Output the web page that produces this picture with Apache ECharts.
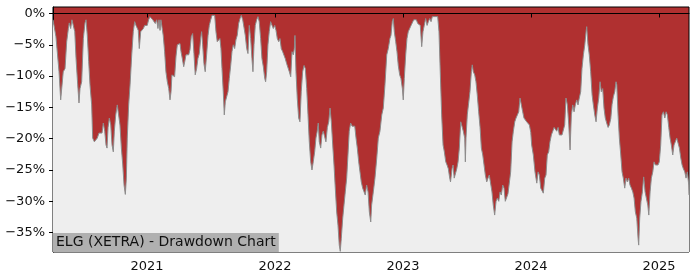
<!DOCTYPE html>
<html>
<head>
<meta charset="utf-8">
<script src="https://cdn.jsdelivr.net/npm/echarts@6/dist/echarts.min.js"></script>
<style>html,body{margin:0;padding:0;background:#fff;}#chart{width:700px;height:280px;}</style>
</head>
<body>
<div id="chart"></div>
<script>
// Drawdown values [decimal year, drawdown %]
const dd2020 = [
[2020.266,-1.0],[2020.278,-1.3],[2020.289,-3.7],[2020.300,-3.8],[2020.313,-9.3],[2020.326,-13.8],[2020.336,-14.1],[2020.346,-9.3],[2020.360,-8.8],[2020.373,-4.5],[2020.386,-2.4],[2020.393,-1.5],[2020.404,-2.4],[2020.414,-1.0],[2020.425,-0.8],[2020.436,-2.9],[2020.446,-7.2],[2020.459,-11.4],[2020.469,-14.3],[2020.477,-12.0],[2020.490,-10.9],[2020.503,-4.0],[2020.516,-1.5],[2020.524,-1.0],[2020.534,-3.5],[2020.545,-7.7],[2020.555,-11.4],[2020.568,-14.6],[2020.576,-19.9],[2020.589,-20.5],[2020.602,-20.7],[2020.612,-19.9],[2020.625,-19.1],[2020.639,-19.4],[2020.649,-19.1],[2020.659,-17.5],[2020.670,-18.8],[2020.680,-21.0],[2020.688,-21.5],[2020.696,-18.2],[2020.706,-16.7],[2020.717,-17.8],[2020.727,-21.0],[2020.737,-22.1],[2020.745,-18.8],[2020.756,-16.2],[2020.768,-14.6],[2020.779,-14.6],[2020.789,-17.8],[2020.800,-21.5],[2020.811,-24.2],[2020.821,-27.4],[2020.831,-28.9],[2020.839,-26.3],[2020.846,-19.9],[2020.857,-14.6],[2020.868,-11.4],[2020.881,-6.6],[2020.893,-2.9],[2020.904,-1.3],[2020.914,-1.9],[2020.925,-1.6],[2020.932,-2.7],[2020.940,-5.6],[2020.951,-2.9],[2020.961,-2.7],[2020.972,-2.4],[2020.982,-1.9],[2020.993,-1.6]
];
const dd2021 = [
[2021.002,-1.9],[2021.013,-1.0],[2021.023,-0.5],[2021.034,-0.3],[2021.045,-1.0],[2021.055,-1.3],[2021.065,-1.6],[2021.076,-1.0],[2021.086,-2.4],[2021.094,-1.0],[2021.102,-2.7],[2021.109,-1.0],[2021.117,-1.3],[2021.127,-3.5],[2021.138,-6.1],[2021.148,-9.3],[2021.159,-10.9],[2021.170,-12.0],[2021.180,-13.8],[2021.188,-12.5],[2021.195,-9.8],[2021.205,-9.6],[2021.216,-10.1],[2021.227,-6.8],[2021.237,-5.0],[2021.248,-5.0],[2021.258,-4.8],[2021.266,-6.1],[2021.276,-7.2],[2021.287,-8.5],[2021.295,-7.7],[2021.305,-6.6],[2021.315,-6.4],[2021.326,-6.6],[2021.336,-5.8],[2021.346,-3.7],[2021.357,-3.2],[2021.367,-6.4],[2021.377,-9.8],[2021.388,-8.8],[2021.398,-7.2],[2021.409,-6.4],[2021.420,-3.9],[2021.427,-2.9],[2021.435,-5.0],[2021.445,-8.0],[2021.455,-9.3],[2021.466,-6.6],[2021.477,-3.5],[2021.487,-1.9],[2021.498,-1.0],[2021.508,-0.3],[2021.518,-0.6],[2021.529,-0.3],[2021.539,-2.9],[2021.549,-4.5],[2021.560,-4.5],[2021.570,-4.0],[2021.578,-5.6],[2021.586,-8.8],[2021.596,-12.5],[2021.604,-16.2],[2021.612,-14.1],[2021.623,-14.1],[2021.633,-12.5],[2021.643,-10.4],[2021.654,-8.3],[2021.664,-6.1],[2021.674,-5.0],[2021.685,-5.6],[2021.695,-4.2],[2021.705,-3.5],[2021.716,-1.6],[2021.727,-0.8],[2021.737,-0.3],[2021.748,-1.0],[2021.758,-1.3],[2021.768,-3.5],[2021.779,-5.6],[2021.789,-6.4],[2021.799,-1.9],[2021.810,-4.0],[2021.820,-7.2],[2021.828,-9.3],[2021.836,-5.0],[2021.846,-1.9],[2021.857,-1.0],[2021.867,-0.5],[2021.877,-1.3],[2021.888,-4.0],[2021.898,-7.2],[2021.909,-8.5],[2021.920,-10.4],[2021.927,-10.9],[2021.935,-9.3],[2021.945,-5.0],[2021.955,-2.9],[2021.966,-1.3],[2021.977,-1.9],[2021.987,-2.4],[2021.998,-1.9]
];
const dd2022 = [
[2022.008,-2.7],[2022.018,-4.0],[2022.029,-4.5],[2022.039,-4.0],[2022.049,-5.6],[2022.060,-6.1],[2022.070,-6.4],[2022.080,-7.2],[2022.091,-8.0],[2022.102,-8.3],[2022.112,-9.3],[2022.123,-10.1],[2022.133,-6.1],[2022.143,-6.6],[2022.151,-5.6],[2022.156,-3.5],[2022.164,-9.3],[2022.174,-13.5],[2022.185,-16.7],[2022.195,-17.3],[2022.205,-12.5],[2022.216,-9.3],[2022.227,-8.3],[2022.237,-8.8],[2022.248,-12.0],[2022.258,-16.2],[2022.268,-20.5],[2022.279,-23.7],[2022.289,-25.0],[2022.299,-23.7],[2022.310,-22.1],[2022.320,-19.9],[2022.330,-18.8],[2022.338,-17.5],[2022.346,-20.5],[2022.357,-21.5],[2022.367,-19.4],[2022.377,-18.8],[2022.388,-19.7],[2022.398,-20.5],[2022.409,-18.2],[2022.420,-17.3],[2022.430,-15.1],[2022.440,-17.3],[2022.451,-21.0],[2022.461,-24.2],[2022.471,-27.9],[2022.482,-31.7],[2022.492,-33.8],[2022.502,-37.0],[2022.510,-38.0],[2022.518,-35.9],[2022.529,-32.7],[2022.539,-30.6],[2022.549,-28.5],[2022.560,-26.3],[2022.570,-22.6],[2022.580,-18.8],[2022.591,-17.5],[2022.602,-18.0],[2022.612,-18.2],[2022.623,-18.0],[2022.633,-19.9],[2022.643,-21.5],[2022.654,-23.7],[2022.664,-25.3],[2022.674,-26.9],[2022.685,-27.9],[2022.695,-28.2],[2022.705,-29.0],[2022.716,-27.4],[2022.727,-28.5],[2022.737,-31.7],[2022.748,-33.3],[2022.755,-30.6],[2022.768,-28.5],[2022.781,-26.3],[2022.795,-23.1],[2022.807,-19.9],[2022.820,-18.8],[2022.834,-16.2],[2022.846,-15.1],[2022.859,-11.4],[2022.873,-6.6],[2022.885,-5.6],[2022.898,-4.0],[2022.906,-3.5],[2022.916,-1.3],[2022.924,-0.8],[2022.932,-2.9],[2022.943,-4.5],[2022.953,-6.1],[2022.963,-8.3],[2022.974,-9.8],[2022.984,-10.4],[2022.995,-12.0]
];
const dd2023 = [
[2023.002,-13.8],[2023.010,-10.4],[2023.021,-6.6],[2023.031,-4.0],[2023.041,-2.9],[2023.052,-2.4],[2023.063,-1.9],[2023.073,-1.6],[2023.084,-1.0],[2023.094,-0.8],[2023.104,-1.0],[2023.115,-1.6],[2023.125,-1.9],[2023.135,-1.9],[2023.146,-5.3],[2023.156,-2.9],[2023.166,-1.9],[2023.177,-0.8],[2023.188,-1.9],[2023.198,-1.3],[2023.209,-0.8],[2023.219,-1.3],[2023.229,-0.5],[2023.240,-0.8],[2023.250,-0.5],[2023.260,-0.8],[2023.271,-0.5],[2023.281,-2.9],[2023.291,-9.3],[2023.302,-16.2],[2023.313,-21.0],[2023.323,-22.1],[2023.334,-23.7],[2023.344,-24.2],[2023.354,-24.8],[2023.365,-26.3],[2023.371,-26.9],[2023.383,-24.8],[2023.391,-24.2],[2023.400,-26.3],[2023.409,-26.0],[2023.420,-24.8],[2023.430,-23.7],[2023.440,-21.5],[2023.451,-17.3],[2023.461,-17.3],[2023.471,-18.8],[2023.482,-19.9],[2023.487,-23.7],[2023.492,-19.9],[2023.502,-16.2],[2023.513,-16.0],[2023.523,-12.5],[2023.534,-9.3],[2023.541,-8.2],[2023.549,-9.3],[2023.560,-9.8],[2023.570,-10.9],[2023.580,-13.0],[2023.591,-15.7],[2023.602,-18.2],[2023.612,-21.5],[2023.623,-22.6],[2023.633,-24.2],[2023.643,-25.8],[2023.654,-26.9],[2023.664,-26.3],[2023.674,-25.8],[2023.685,-25.8],[2023.695,-28.5],[2023.705,-30.6],[2023.716,-32.2],[2023.727,-30.0],[2023.737,-29.5],[2023.748,-30.0],[2023.758,-28.5],[2023.768,-29.0],[2023.779,-27.4],[2023.789,-27.9],[2023.799,-30.0],[2023.810,-30.0],[2023.820,-28.8],[2023.830,-28.5],[2023.841,-25.3],[2023.852,-20.5],[2023.862,-18.8],[2023.873,-17.3],[2023.883,-16.7],[2023.893,-16.7],[2023.904,-15.7],[2023.914,-13.5],[2023.924,-13.8],[2023.935,-15.7],[2023.945,-16.7],[2023.955,-17.0],[2023.966,-17.3],[2023.977,-17.3],[2023.987,-17.8],[2023.998,-19.0]
];
const dd2024 = [
[2024.005,-21.0],[2024.018,-22.6],[2024.031,-25.3],[2024.045,-27.1],[2024.055,-25.3],[2024.065,-25.8],[2024.076,-27.9],[2024.086,-28.2],[2024.096,-28.7],[2024.107,-26.3],[2024.117,-25.8],[2024.127,-22.6],[2024.138,-22.1],[2024.148,-20.5],[2024.159,-19.4],[2024.170,-18.8],[2024.180,-18.2],[2024.190,-18.5],[2024.201,-18.8],[2024.211,-18.2],[2024.221,-19.4],[2024.232,-19.1],[2024.242,-19.4],[2024.252,-19.1],[2024.263,-17.8],[2024.273,-13.5],[2024.284,-14.6],[2024.295,-17.8],[2024.305,-21.8],[2024.315,-16.2],[2024.326,-14.6],[2024.336,-15.7],[2024.346,-14.6],[2024.357,-13.8],[2024.367,-14.6],[2024.377,-13.5],[2024.388,-12.5],[2024.398,-8.8],[2024.409,-6.6],[2024.420,-5.0],[2024.430,-2.9],[2024.435,-2.1],[2024.445,-5.0],[2024.455,-6.6],[2024.466,-9.3],[2024.477,-13.0],[2024.487,-14.6],[2024.498,-16.2],[2024.508,-17.3],[2024.518,-15.1],[2024.529,-13.5],[2024.539,-10.9],[2024.549,-12.5],[2024.560,-12.0],[2024.570,-15.1],[2024.580,-16.7],[2024.591,-17.5],[2024.602,-18.2],[2024.612,-17.8],[2024.623,-16.8],[2024.633,-14.5],[2024.643,-13.3],[2024.654,-12.5],[2024.664,-10.9],[2024.670,-11.4],[2024.680,-16.2],[2024.690,-19.9],[2024.701,-22.6],[2024.711,-25.3],[2024.721,-26.3],[2024.732,-27.9],[2024.742,-26.3],[2024.752,-26.9],[2024.763,-26.3],[2024.773,-27.4],[2024.784,-27.9],[2024.795,-28.5],[2024.805,-29.5],[2024.815,-31.7],[2024.826,-32.7],[2024.836,-35.9],[2024.841,-37.0],[2024.849,-32.7],[2024.859,-30.0],[2024.870,-28.5],[2024.880,-26.1],[2024.891,-28.5],[2024.901,-29.5],[2024.912,-30.6],[2024.920,-32.2],[2024.930,-28.5],[2024.940,-26.3],[2024.951,-25.3],[2024.961,-23.7],[2024.971,-24.2],[2024.982,-24.2],[2024.992,-24.2]
];
const dd2025 = [
[2025.002,-23.7],[2025.013,-21.0],[2025.023,-16.2],[2025.034,-15.7],[2025.045,-16.7],[2025.055,-15.7],[2025.065,-16.2],[2025.076,-18.2],[2025.086,-19.9],[2025.096,-21.0],[2025.107,-22.6],[2025.117,-21.0],[2025.127,-20.5],[2025.138,-19.9],[2025.148,-19.9],[2025.159,-21.5],[2025.170,-23.1],[2025.180,-24.2],[2025.190,-24.8],[2025.201,-25.3],[2025.211,-26.3],[2025.221,-25.3],[2025.232,-27.4],[2025.234,-29.0]
];
const yearTicks = [2021, 2022, 2023, 2024, 2025];
const pctTicks = [0, -5, -10, -15, -20, -25, -30, -35];
const chartTitle = 'ELG (XETRA) - Drawdown Chart';

const series = [].concat(dd2020, dd2021, dd2022, dd2023, dd2024, dd2025);
const font = 'DejaVu Sans';
const chart = echarts.init(document.getElementById('chart'), null, {renderer: 'canvas'});
chart.setOption({
  animation: false,
  backgroundColor: '#ffffff',
  title: {
    text: chartTitle, left: 53, top: 233,
    padding: [1, 3, 2, 3],
    backgroundColor: '#b0b0b0',
    textStyle: {fontFamily: font, fontSize: 14, fontWeight: 'normal', color: '#111', lineHeight: 16}
  },
  grid: {
    left: 53, right: 11, top: 7, bottom: 28,
    show: true, backgroundColor: '#b03030', borderColor: '#000', borderWidth: 1
  },
  xAxis: {
    type: 'value', min: 2020.266, max: 2025.234,
    splitLine: {show: false},
    axisLine: {show: true, lineStyle: {color: '#000', width: 1}},
    axisTick: {show: true, length: 4, customValues: yearTicks, lineStyle: {color: '#000'}},
    axisLabel: {customValues: yearTicks, margin: 8, fontFamily: font, fontSize: 13, color: '#111',
      formatter: v => String(Math.round(v))}
  },
  yAxis: {
    type: 'value', min: -38.1, max: 1.04,
    splitLine: {show: false},
    axisLine: {show: true, lineStyle: {color: '#000', width: 1}},
    axisTick: {show: true, length: 4, customValues: pctTicks, lineStyle: {color: '#000'}},
    axisLabel: {customValues: pctTicks, margin: 8, fontFamily: font, fontSize: 13, color: '#111',
      formatter: v => (v < 0 ? '\u2212' : '') + Math.abs(Math.round(v)) + '%'}
  },
  series: [{
    type: 'line',
    data: series,
    showSymbol: false,
    symbol: 'none',
    lineStyle: {color: '#8c8c8c', width: 1},
    areaStyle: {color: '#eeeeee', opacity: 1, origin: 'start'},
    z: 2
  }]
});
</script>
</body>
</html>
